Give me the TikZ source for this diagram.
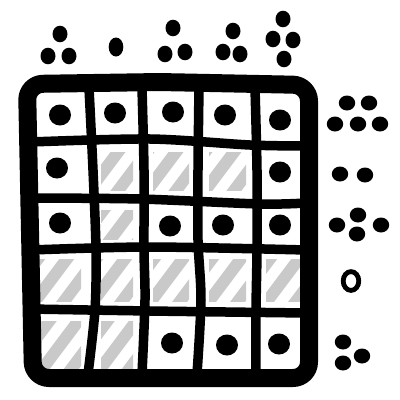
\documentclass[tikz,border=0pt]{standalone}
\tikzset{
  gridline/.style={line width=9.5pt, line cap=round, line join=round, black},
  borderline/.style={line width=18pt, line join=round, rounded corners=16pt, black},
  hatchline/.style={line width=12pt, line cap=round, color=hatchgray},
  celldot/.style={fill=black},
}
\definecolor{hatchgray}{HTML}{C9C9C9}
\newcommand{\hcell}[4]{%
  \begin{scope}
    \clip (#1+10,#2+10) rectangle (#3-10,#4-10);
    \foreach \c in {0,29,...,700} {\draw[hatchline] (\c,0) -- (\c-300,400);}
  \end{scope}}
\begin{document}
\begin{tikzpicture}[x=1pt,y=-1pt]
\useasboundingbox (0,0) rectangle (400,400);
% hatched cells
\hcell{91}{142}{143}{200}
\hcell{143}{142}{199}{200}
\hcell{199}{142}{256}{200}
\hcell{91}{200}{143}{249}
\hcell{28}{249}{91}{311}
\hcell{91}{249}{143}{311}
\hcell{143}{249}{199}{311}
\hcell{199}{249}{256}{311}
\hcell{256}{249}{310}{311}
\hcell{28}{311}{91}{378}
\hcell{91}{311}{143}{378}
% inner grid lines
\draw[gridline] plot[smooth] coordinates {(89,88) (93,170) (96,250) (95,310) (88,374)};
\draw[gridline] plot[smooth] coordinates {(142,88) (144,170) (144,250) (145,300) (142,374)};
\draw[gridline] plot[smooth] coordinates {(199,88) (198,170) (198,240) (201,300) (197,374)};
\draw[gridline] plot[smooth] coordinates {(255,88) (257,170) (257,250) (256,310) (256,374)};
\draw[gridline] plot[smooth] coordinates {(30,142) (150,139) (250,145) (306,146)};
\draw[gridline] plot[smooth] coordinates {(30,198) (140,199) (260,204) (306,203)};
\draw[gridline] plot[smooth] coordinates {(30,250) (150,247) (306,250)};
\draw[gridline] plot[smooth] coordinates {(30,309) (150,311) (306,313)};
% border
\draw[borderline] (27,84) -- (160,82) -- (309,85) -- (309,378) -- (33,378) -- cycle;
% cell dots
\foreach \p in {(60,115),(115,113),(173,112),(225,115),(280,120),(57,168),(280,172),(60,223),(170,226),(223,225),(280,225),(172,343),(227,345),(279,344)}
  \fill[celldot] \p ellipse [x radius=11pt, y radius=10.5pt];
% top clues
\foreach \p in {(60,34),(48,56),(69,56),(173,28),(165,54),(185,52),(233,31),(223,52),(240,54),(283,19),(273,39),(293,40),(284,59)}
  \fill[celldot] \p ellipse [x radius=7.5pt, y radius=8.3pt];
\fill[celldot] (116,47) ellipse [x radius=7.3pt, y radius=9.5pt];
% right clues
\foreach \p in {(347,103),(369,103),(335,124),(358,124),(380,124),(340,174),(365,175),(337,225),(358,215),(357,234),(381,225),(343,342),(362,356),(343,363)}
  \fill[celldot] \p ellipse [x radius=8.2pt, y radius=7.5pt];
\draw[line width=4.8pt] (351,281) ellipse [x radius=7.8pt, y radius=9.4pt];
\end{tikzpicture}
\end{document}
